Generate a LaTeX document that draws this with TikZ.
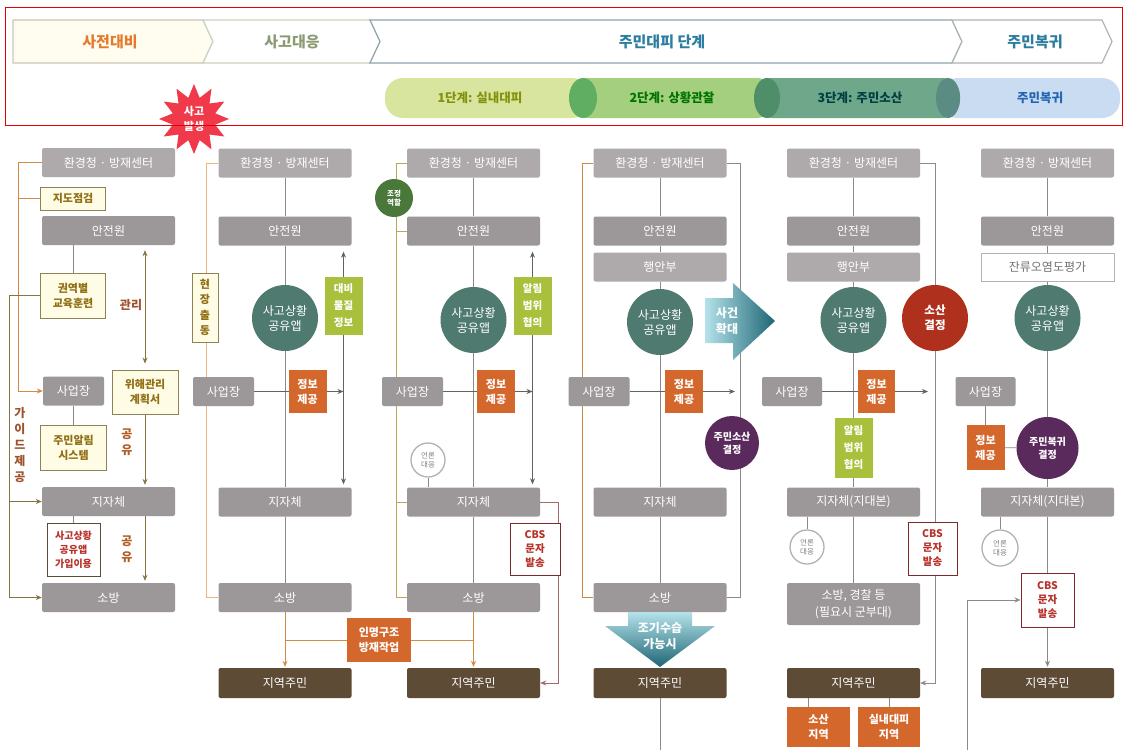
\documentclass[tikz,border=0pt]{standalone}
\usepackage{fontspec}
\setmainfont{Noto Sans CJK KR}
\usetikzlibrary{arrows.meta,shapes.geometric,calc}
\pgfdeclarelayer{bottom}
\pgfdeclarelayer{background}
\pgfsetlayers{bottom,background,main}

\definecolor{gLt}{HTML}{AEAAAC}
\definecolor{gDk}{HTML}{9C9799}
\definecolor{cream}{HTML}{FFFCE6}
\definecolor{ybord}{HTML}{8E8258}
\definecolor{ytext}{HTML}{8F6E14}
\definecolor{orng}{HTML}{D4682C}
\definecolor{limeg}{HTML}{A8C03C}
\definecolor{brn}{HTML}{5E4B36}
\definecolor{tealc}{HTML}{4E7A6F}
\definecolor{purp}{HTML}{5A2A5C}
\definecolor{redc}{HTML}{B0301E}
\definecolor{dgreen}{HTML}{4A783A}
\definecolor{cbsb}{HTML}{7A2A28}
\definecolor{cbst}{HTML}{B8322A}
\definecolor{lgray}{HTML}{8A8A8A}
\definecolor{dgl}{HTML}{5C665C}
\definecolor{orL}{HTML}{D38A45}
\definecolor{orP}{HTML}{EDB57C}
\definecolor{olL}{HTML}{857540}
\definecolor{olP}{HTML}{BCA65A}
\definecolor{brT}{HTML}{A0522D}
\definecolor{arL}{HTML}{B4E2EA}
\definecolor{arD}{HTML}{1D6674}
\definecolor{hOr}{HTML}{E57A2C}
\definecolor{hGr}{HTML}{8C9A72}
\definecolor{hBl}{HTML}{2C7EA0}
\definecolor{starred}{HTML}{F03A4C}
\definecolor{pill1}{HTML}{D8E59F}
\definecolor{pill2}{HTML}{A3CF7E}
\definecolor{pill3}{HTML}{6FA78B}
\definecolor{pill4}{HTML}{C9DCF1}
\definecolor{cap2}{HTML}{5FAE62}
\definecolor{cap3}{HTML}{4E8E68}
\definecolor{cap4}{HTML}{5A8C84}

\begin{document}
\begin{tikzpicture}[x=1pt,y=-1pt,
 box/.style={rectangle,rounded corners=2pt,inner sep=0pt,align=center,text=white,font=\fontsize{12}{15}\selectfont},
 gl/.style={box,fill=gLt,minimum width=133pt,minimum height=29pt},
 gd/.style={box,fill=gDk,minimum width=133pt,minimum height=29pt},
 biz/.style={box,fill=gDk,minimum width=61pt,minimum height=29pt},
 res/.style={box,fill=brn,minimum width=133pt,minimum height=30pt},
 yb/.style={rectangle,fill=cream,draw=ybord,line width=0.9pt,inner sep=0pt,align=center,text=ytext,font=\bfseries\fontsize{11}{15}\selectfont},
 ob/.style={rectangle,fill=orng,inner sep=0pt,align=center,text=white,font=\bfseries\fontsize{11}{15}\selectfont,minimum width=38pt,minimum height=43pt},
 lb/.style={rectangle,fill=limeg,inner sep=0pt,align=center,text=white,font=\bfseries\fontsize{10.5}{17}\selectfont,minimum width=38pt,minimum height=58pt},
 app/.style={circle,fill=tealc,minimum size=66pt,inner sep=0pt,align=center,text=white,font=\fontsize{12}{15}\selectfont},
 dec/.style={circle,inner sep=0pt,align=center,text=white,font=\bfseries\fontsize{10}{13}\selectfont},
 press/.style={circle,draw=gray!60,line width=1.3pt,fill=white,minimum size=34pt,inner sep=0pt,align=center,text=gray,font=\fontsize{7.5}{9}\selectfont},
 cbs/.style={rectangle,draw=cbsb,line width=1pt,fill=white,inner sep=0pt,align=center,text=cbst,font=\bfseries\fontsize{10.5}{14}\selectfont,minimum width=50pt,minimum height=52pt},
 lbl/.style={text=brT,inner sep=0pt,align=center,font=\bfseries\fontsize{12}{16}\selectfont},
 ln/.style={draw=lgray,line width=0.8pt},
 arr/.style={-{Stealth[length=6pt,width=5pt]}},
 darr/.style={{Stealth[length=6pt,width=5pt]}-{Stealth[length=6pt,width=5pt]}},
 chev/.style={line width=1.2pt},
 htxt/.style={inner sep=0pt,font=\bfseries\fontsize{15}{18}\selectfont},
 ptxt/.style={inner sep=0pt,font=\bfseries\fontsize{12.5}{15}\selectfont},
]
\useasboundingbox (0,0) rectangle (1124,750);
\begin{pgfonlayer}{bottom}
\fill[white] (0,0) rectangle (1124,750);
\end{pgfonlayer}

% ---------- header ----------
\draw[chev,draw=ybord!45,fill=cream!60] (13,20) -- (203,20) -- (213,41.5) -- (203,63) -- (13,63) -- cycle;
\draw[chev,draw=hGr!45,fill=white] (203,20) -- (370,20) -- (380,41.5) -- (370,63) -- (203,63) -- (213,41.5) -- cycle;
\draw[chev,draw=hBl!40!gray!70,fill=white] (370,20) -- (952,20) -- (962,41.5) -- (952,63) -- (370,63) -- (380,41.5) -- cycle;
\draw[chev,draw=gray!60,fill=white] (952,20) -- (1102,20) -- (1112,41.5) -- (1102,63) -- (952,63) -- (962,41.5) -- cycle;
\node[htxt,text=hOr] (h1) at (110,41.5) {사전대비};
\node[htxt,text=hGr] (h2) at (292,41.5) {사고대응};
\node[htxt,text=hBl] (h3) at (662,41.5) {주민대피 단계};
\node[htxt,text=hBl] (h4) at (1035,41.5) {주민복귀};

\fill[pill4,rounded corners=18pt] (940,78) rectangle (1120,118);
\fill[pill3,rounded corners=18pt] (755,78) rectangle (960,118);
\fill[pill2,rounded corners=18pt] (570,78) rectangle (775,118);
\fill[pill1,rounded corners=18pt] (385,78) rectangle (590,118);
\fill[cap2] (583,98) ellipse (14 and 20);
\fill[cap3] (767,98) ellipse (13 and 20);
\fill[cap4] (948,98) ellipse (12 and 20);
\node[ptxt,text=olive!80!green] (p1) at (480,98) {1단계: 실내대피};
\node[ptxt,text=green!45!black] (p2) at (672,98) {2단계: 상황관찰};
\node[ptxt,text=teal!50!black] (p3) at (860,98) {3단계: 주민소산};
\node[ptxt,text=hBl!80!blue] (p4) at (1040,98) {주민복귀};

\node[star,star points=12,star point ratio=1.6,fill=starred,minimum size=70pt,inner sep=0pt,align=center,text=white,font=\bfseries\fontsize{11}{15}\selectfont] (star) at (194,119) {사고\\발생};
\draw[red!90!black,line width=1pt] (5,7) rectangle (1122,125);

% ---------- column 1 ----------
\node[gl] (c1env) at (108.5,162.5) {환경청 · 방재센터};
\node[yb,minimum width=65pt,minimum height=23pt] (c1gd) at (73,198.5) {지도점검};
\node[gd] (c1safe) at (108.5,230.5) {안전원};
\node[yb,minimum width=65pt,minimum height=45pt] (c1edu) at (73,295.5) {권역별\\교육훈련};
\node[biz] (c1biz) at (73.5,391) {사업장};
\node[yb,minimum width=66pt,minimum height=44pt] (c1plan) at (145,392) {위해관리\\계획서};
\node[yb,minimum width=66pt,minimum height=45pt] (c1alarm) at (73.5,447.5) {주민알림\\시스템};
\node[gd] (c1gov) at (108.5,501.5) {지자체};
\node[yb,draw=brn,fill=white,text=cbst,minimum width=53pt,minimum height=53pt,font=\bfseries\fontsize{10}{14}\selectfont] (c1app) at (73.5,549.5) {사고상황\\공유앱\\가입이용};
\node[gd] (c1fire) at (108.5,597.5) {소방};
\node[lbl] (t1) at (131,305) {관리};
\node[lbl,text=brT!80!orange] (t2) at (127,442) {공\\유};
\node[lbl,text=brT!80!orange] (t3) at (127,549) {공\\유};
\node[lbl] (t4) at (20,445) {가\\이\\드\\제\\공};

% ---------- column 2 ----------
\node[gl] (c2env) at (285,163) {환경청 · 방재센터};
\node[gd] (c2safe) at (285,231) {안전원};
\node[app] (c2app) at (285,318) {사고상황\\공유앱};
\node[lb] (c2mat) at (343.5,306) {대비\\물질\\정보};
\node[yb,minimum width=26pt,minimum height=69pt,font=\bfseries\fontsize{11}{15.5}\selectfont] (c2site) at (205,307.5) {현\\장\\출\\동};
\node[biz] (c2biz) at (223.5,391.5) {사업장};
\node[ob] (c2info) at (307.5,391.5) {정보\\제공};
\node[gd] (c2gov) at (285,502) {지자체};
\node[gd] (c2fire) at (285,597.5) {소방};
\node[res] (c2res) at (285,683) {지역주민};
\node[ob,minimum width=64pt,minimum height=44pt] (rescue) at (379,640) {인명구조\\방재작업};

% ---------- column 3 ----------
\node[gl] (c3env) at (473.5,163) {환경청 · 방재센터};
\node[dec,fill=dgreen,minimum size=38pt,font=\bfseries\fontsize{7.5}{9}\selectfont] (c3coord) at (394,198) {조정\\역할};
\node[gd] (c3safe) at (473.5,231) {안전원};
\node[app] (c3app) at (473.5,320) {사고상황\\공유앱};
\node[lb] (c3alert) at (532.5,306) {알림\\범위\\협의};
\node[biz] (c3biz) at (412.5,391.5) {사업장};
\node[ob] (c3info) at (496,391.5) {정보\\제공};
\node[press] (c3press) at (428,460) {언론\\대응};
\node[gd] (c3gov) at (473.5,502) {지자체};
\node[cbs] (c3cbs) at (535,549) {CBS\\문자\\발송};
\node[gd] (c3fire) at (473.5,597.5) {소방};
\node[res] (c3res) at (473.5,683) {지역주민};

% ---------- column 4 ----------
\node[gl] (c4env) at (660,163) {환경청 · 방재센터};
\node[gd] (c4safe) at (660,231) {안전원};
\node[gl] (c4mois) at (660,267) {행안부};
\node[app] (c4app) at (660,322) {사고상황\\공유앱};
\node[biz] (c4biz) at (599,391.5) {사업장};
\node[ob] (c4info) at (684,391.5) {정보\\제공};
\node[dec,fill=purp,minimum size=54pt] (c4evac) at (732,443) {주민소산\\결정};
\node[gd] (c4gov) at (660,502) {지자체};
\node[gd] (c4fire) at (660,597.5) {소방};
\node[res] (c4res) at (660,683) {지역주민};
\shade[left color=arL,right color=arD] (705,298) -- (733,298) -- (733,283) -- (775,321) -- (733,360) -- (733,343) -- (705,343) -- cycle;
\node[inner sep=0pt,align=center,text=white,font=\bfseries\fontsize{12}{16}\selectfont] (expand) at (727,321) {사건\\확대};
\shade[top color=arL,bottom color=arD] (628,612) -- (692,612) -- (692,626) -- (715,626) -- (660,667) -- (605,626) -- (628,626) -- cycle;
\node[inner sep=0pt,align=center,text=white,font=\bfseries\fontsize{12}{16}\selectfont] (early) at (660,636) {조기수습\\가능시};

% ---------- column 5 ----------
\node[gl] (c5env) at (853.5,163) {환경청 · 방재센터};
\node[gd] (c5safe) at (853.5,231) {안전원};
\node[gl] (c5mois) at (853.5,267) {행안부};
\node[app] (c5app) at (853.5,320) {사고상황\\공유앱};
\node[dec,fill=redc,minimum size=66pt,font=\bfseries\fontsize{11.5}{15}\selectfont] (c5evac) at (935,318) {소산\\결정};
\node[biz,minimum width=60pt] (c5biz) at (792,391.5) {사업장};
\node[ob,minimum width=37pt] (c5info) at (876.5,391.5) {정보\\제공};
\node[lb,minimum height=60pt] (c5alert) at (853.5,448) {알림\\범위\\협의};
\node[gd] (c5gov) at (853.5,502) {지자체(지대본)};
\node[press] (c5press) at (807,547) {언론\\대응};
\node[cbs,minimum width=49pt,minimum height=53pt] (c5cbs) at (932.5,548.5) {CBS\\문자\\발송};
\node[gd,minimum height=42pt,font=\fontsize{12}{17}\selectfont] (c5fire) at (853.5,604) {소방, 경찰 등\\(필요시 군부대)};
\node[res] (c5res) at (853.5,683) {지역주민};
\node[ob,minimum width=63pt,minimum height=40pt] (c5a1) at (818.5,727) {소산\\지역};
\node[ob,minimum width=62pt,minimum height=40pt] (c5a2) at (889,727) {실내대피\\지역};

% ---------- column 6 ----------
\node[gl] (c6env) at (1047.5,163) {환경청 · 방재센터};
\node[gd] (c6safe) at (1047.5,231) {안전원};
\node[box,fill=white,draw=gray!60,line width=0.8pt,text=gray!90!black,minimum width=133pt,minimum height=28pt,rounded corners=0pt] (c6eval) at (1047.5,267) {잔류오염도평가};
\node[app] (c6app) at (1047.5,318) {사고상황\\공유앱};
\node[biz,minimum width=60pt] (c6biz) at (985.5,391.5) {사업장};
\node[ob,minimum height=45pt] (c6info) at (985.5,447.5) {정보\\제공};
\node[dec,fill=purp,minimum size=62pt] (c6ret) at (1047.5,448) {주민복귀\\결정};
\node[gd] (c6gov) at (1047.5,502) {지자체(지대본)};
\node[press,minimum size=36pt] (c6press) at (1000,548) {언론\\대응};
\node[cbs,minimum width=53pt,minimum height=54pt] (c6cbs) at (1047.5,600) {CBS\\문자\\발송};
\node[res] (c6res) at (1047.5,683) {지역주민};
\coordinate (c4out) at (660,750);
\coordinate (c6in) at (967,750);

% ---------- connectors ----------
\begin{pgfonlayer}{background}
% col1
\draw[orL,line width=0.9pt,arr] (c1env.west) -- (18,162.5) |- (c1biz.west);
\draw[orL,line width=0.9pt] (c1gd.west) -- (18,198.5);
\draw[olL,line width=0.9pt,arr] (c1edu.west) -- (9,295.5) |- (c1fire.west);
\draw[olL,line width=0.9pt,arr] (9,501.5) -- (c1gov.west);
\draw[ln] (c1edu.north |- c1safe.south) -- (c1edu.north);
\draw[ln] (c1biz.south) -- (c1alarm.north);
\draw[ln] (c1app.north |- c1gov.south) -- (c1app.north);
\draw[olL,line width=0.9pt,darr] ($(c1plan.north |- c1safe.south)+(0,5)$) -- ($(c1plan.north)+(0,-6)$);
\draw[olL,line width=0.9pt,arr,shorten >=2pt] (c1plan.south) -- (c1plan.south |- c1gov.north);
\draw[olL,line width=0.9pt,arr,shorten >=2pt] (c1plan.south |- c1gov.south) -- (c1plan.south |- c1fire.north);
% col2
\draw[orP,line width=1pt] (c2env.west) -- (206,163) |- (c2fire.west);
\draw[ln] (c2env) -- (c2safe) -- (c2app) -- (c2gov) -- (c2fire);
\draw[orL,line width=1pt,arr,shorten >=1pt] (c2fire.south) -- (c2res.north);
\draw[orL,line width=1pt,arr,shorten >=1pt] (c3fire.south) -- (c3res.north);
\draw[orL,line width=1pt] (c2fire |- rescue) -- (c3fire |- rescue);
\draw[dgl,line width=0.9pt,darr] ($(c2mat |- c2safe.south)+(0,6)$) -- ($(c2mat |- c2gov.north)+(0,-3)$);
\draw[dgl,line width=0.9pt,arr] (c2biz.east) -- (c2biz.east -| c2mat);
% col3
\draw[olP,line width=1pt] (c3env.west) -- (396,163) |- (c3fire.west);
\draw[olP,line width=1pt] (396,231) -- (c3safe.west);
\draw[olP,line width=1pt] (396,502) -- (c3gov.west);
\draw[ln] (c3env) -- (c3safe) -- (c3app) -- (c3gov) -- (c3fire);
\draw[dgl,line width=0.9pt,darr] ($(c3alert |- c3safe.south)+(0,6)$) -- ($(c3alert |- c3gov.north)+(0,-3)$);
\draw[dgl,line width=0.9pt,arr] (c3biz.east) -- (c3biz.east -| c3alert);
\draw[ln] (c3press) -- (c3press |- c3gov.north);
\draw[cbsb!70,line width=0.9pt,arr] (c3gov.east) -- (558,502) |- (c3res.east);
% col4
\draw[orL!80!brown,line width=1pt] (c4env.west) -- (582,163) |- (c4fire.west);
\draw[ln] (c4env.east) -- (740,163) |- (c4fire.east);
\draw[ln] (c4env) -- (c4safe) -- (c4mois) -- (c4app) -- (c4gov) -- (c4fire);
\draw[dgl,line width=0.9pt,arr] (c4biz.east) -- (735,391.5);
\draw[ln] (c4res) -- (c4out);
% col5
\draw[ln,arr] (c5env.east) -- (935,163) |- (c5res.east);
\draw[ln] (c5env) -- (c5safe) -- (c5mois) -- (c5app) -- (c5alert) -- (c5gov) -- (c5fire);
\draw[dgl,line width=0.9pt,arr] (c5biz.east) -- (928,391.5);
\draw[ln] (c5press) -- (c5press |- c5gov.south);
\draw[ln] (c5res.south -| 808,0) -- (c5a1.north -| 808,0);
\draw[ln] (c5res.south -| c5a2) -- (c5a2.north);
% col6
\draw[ln] (c6env) -- (c6safe) -- (c6eval) -- (c6app) -- (c6ret) -- (c6gov) -- (c6cbs);
\draw[ln,arr,shorten >=1pt] (c6cbs.south) -- (c6res.north);
\draw[ln] (c6biz) -- (c6info);
\draw[ln] (c6info) -- (c6ret);
\draw[ln] (c6press) -- (c6press |- c6gov.south);
\draw[ln,arr] (c6in) |- (c6cbs.west);
\end{pgfonlayer}
\end{tikzpicture}
\end{document}
